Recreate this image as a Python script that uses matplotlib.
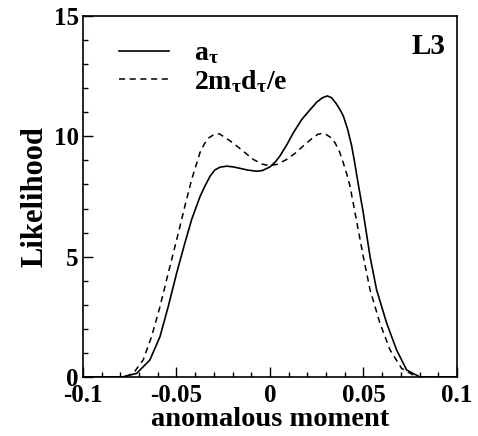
import numpy as np
import matplotlib
matplotlib.use("Agg")
import matplotlib.pyplot as plt
from matplotlib.ticker import MultipleLocator

plt.rcParams['font.family'] = ['Liberation Serif', 'DejaVu Serif']
plt.rcParams['font.weight'] = 'bold'
plt.rcParams['mathtext.fontset'] = 'custom'
plt.rcParams['mathtext.rm'] = 'Liberation Serif:bold'
plt.rcParams['mathtext.it'] = 'Liberation Serif:bold'
plt.rcParams['mathtext.bf'] = 'Liberation Serif:bold'
plt.rcParams['axes.unicode_minus'] = False

# a_tau likelihood (solid)
x_a = [-0.1, -0.079, -0.0713, -0.0642, -0.0588, -0.0544, -0.0499, -0.0455,
       -0.0419, -0.0374, -0.035, -0.032, -0.0295, -0.0267, -0.023, -0.0196,
       -0.016, -0.012, -0.0071, -0.004, 0.0, 0.003, 0.0053, 0.009, 0.0125,
       0.017, 0.0214, 0.025, 0.028, 0.0307, 0.033, 0.0355, 0.0375, 0.0392,
       0.0415, 0.0437, 0.0452, 0.0468, 0.0499, 0.0535, 0.057, 0.0624, 0.0677,
       0.0731, 0.0802, 0.1]
L_a = [0.0, 0.0, 0.15, 0.71, 1.68, 2.93, 4.32, 5.57,
       6.54, 7.5, 7.9, 8.35, 8.6, 8.72, 8.76, 8.73,
       8.67, 8.6, 8.55, 8.58, 8.73, 8.95, 9.18, 9.65, 10.15,
       10.7, 11.1, 11.42, 11.6, 11.68, 11.6, 11.35, 11.1, 10.85,
       10.3, 9.6, 8.95, 8.2, 6.82, 5.01, 3.63, 2.24, 1.125,
       0.29, 0.0, 0.0]

# 2 m_tau d_tau / e likelihood (dashed)
x_d = [-0.1, -0.078, -0.0731, -0.0678, -0.0633, -0.0588, -0.0544, -0.0499,
       -0.0455, -0.0419, -0.0374, -0.035, -0.0325, -0.0294, -0.027, -0.025,
       -0.0215, -0.0178, -0.013, -0.0089, -0.004, 0.0, 0.004, 0.0089, 0.0135,
       0.0178, 0.022, 0.0255, 0.0276, 0.03, 0.0325, 0.0348, 0.037, 0.0392,
       0.041, 0.0428, 0.0455, 0.0499, 0.0535, 0.0588, 0.0642, 0.0704,
       0.0784, 0.1]
L_d = [0.0, 0.0, 0.15, 0.71, 1.68, 2.93, 4.32, 5.7,
       7.1, 8.2, 9.33, 9.7, 9.95, 10.1, 10.1, 10.0,
       9.82, 9.6, 9.3, 9.04, 8.84, 8.78, 8.84, 9.04, 9.3,
       9.6, 9.88, 10.08, 10.12, 10.08, 9.95, 9.73, 9.4, 8.9,
       8.45, 7.93, 6.82, 5.01, 3.63, 2.24, 1.125, 0.36,
       0.0, 0.0]

xticks = [-0.1, -0.05, 0, 0.05, 0.1]
xlabels = ['-0.1', '-0.05', '0', '0.05', '0.1']
yticks = [0, 5, 10, 15]

fig = plt.figure(figsize=(4.78, 4.36), dpi=100)
ax = fig.add_axes([0.1736, 0.1353, 0.956 - 0.1736, 0.9633 - 0.1353])

ax.plot(x_a, L_a, 'k-', lw=1.2, label=r'$\mathrm{a}_{\tau}$')
ax.plot(x_d, L_d, 'k--', lw=1.1, dashes=(4, 3),
        label=r'$\mathrm{2m}_{\tau}\mathrm{d}_{\tau}\mathrm{/e}$')

ax.set_xlim(-0.1, 0.1)
ax.set_ylim(0, 15)
ax.set_xticks(xticks)
ax.set_xticklabels(xlabels)
ax.set_yticks(yticks)
ax.xaxis.set_minor_locator(MultipleLocator(0.01))
ax.yaxis.set_minor_locator(MultipleLocator(1))
ax.tick_params(which='both', direction='in', labelsize=18, width=1)
ax.tick_params(which='major', length=7)
ax.tick_params(which='minor', length=3.5)
ax.tick_params(axis='x', pad=5)
ax.tick_params(axis='y', pad=3)
for s in ax.spines.values():
    s.set_linewidth(1.2)

ax.set_xlabel('anomalous moment', fontsize=20.5, fontweight='bold', labelpad=0)
ax.set_ylabel('Likelihood', fontsize=22, fontweight='bold', labelpad=3)

ax.legend(loc='upper left', bbox_to_anchor=(0.03, 1.0), frameon=False,
          fontsize=20, handlelength=1.8, handletextpad=0.9, labelspacing=0.05)
ax.text(0.97, 0.915, 'L3', transform=ax.transAxes, ha='right', va='center',
        fontsize=21, fontweight='bold')

fig.savefig('out.png', dpi=100)
